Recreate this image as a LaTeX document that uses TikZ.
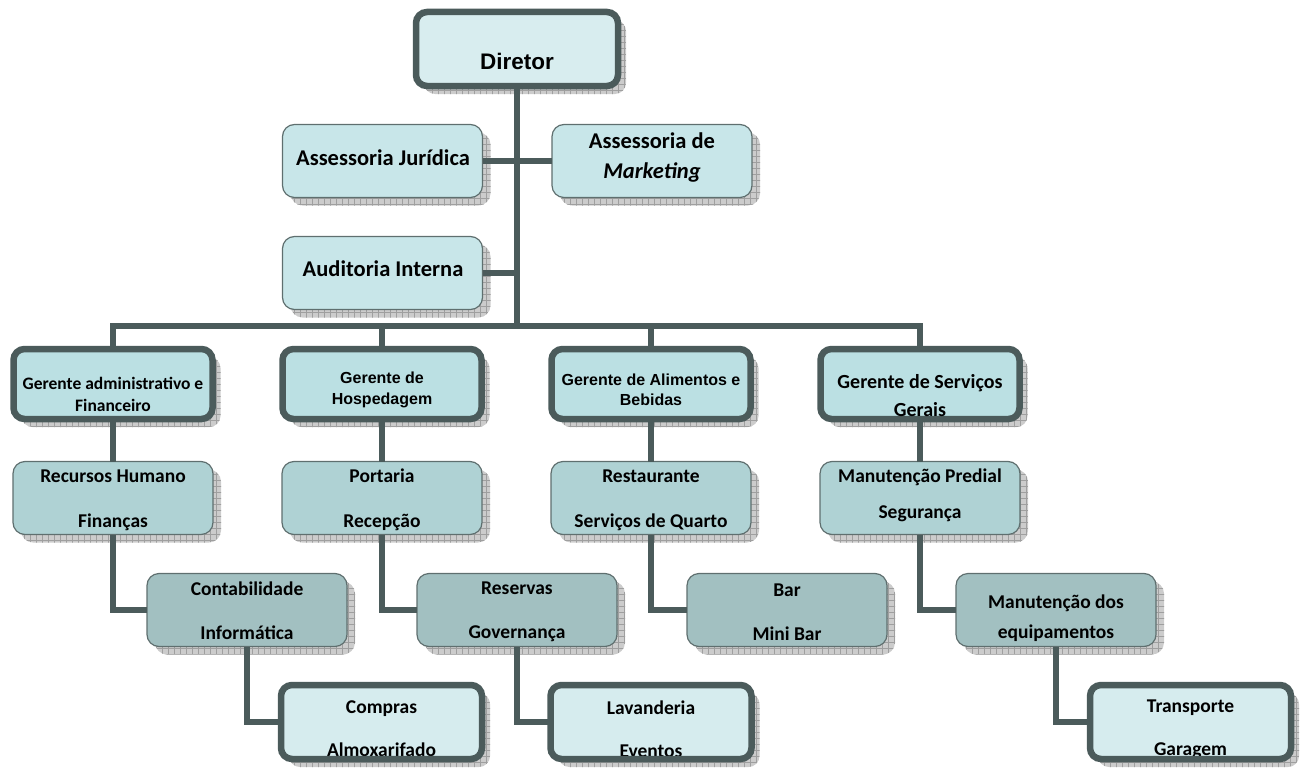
\documentclass[tikz,border=0pt]{standalone}
\usepackage{fontspec}
\setmainfont{Carlito}
\newfontfamily\arialfont{Liberation Sans}
\usetikzlibrary{shadows,patterns.meta}

\definecolor{framegray}{HTML}{4B5B5B}
\definecolor{edgegray}{HTML}{5F6F6F}
\definecolor{topfill}{HTML}{D8EDEF}
\definecolor{stafffill}{HTML}{C8E6E9}
\definecolor{mgrfill}{HTML}{BBE0E3}
\definecolor{secfill}{HTML}{AFD2D4}
\definecolor{subfill}{HTML}{A2C0C1}
\definecolor{lowfill}{HTML}{D6ECEE}

\tikzset{
  boxshadow/.style={general shadow={shadow xshift=8pt, shadow yshift=-8pt, fill=gray!40,
      postaction={pattern={Hatch[distance=6pt, angle=0, line width=0.3pt]}, pattern color=gray!75}}},
  thickbox/.style={boxshadow, draw=framegray, line width=6.5pt, rounded corners=11pt, fill=#1, outer sep=0pt},
  thinbox/.style={boxshadow, draw=edgegray, line width=1.2pt, rounded corners=12pt, fill=#1,
      minimum width=200pt, minimum height=73pt, outer sep=0pt},
  lowframe/.style={draw=framegray, line width=6.5pt, rounded corners=11pt},
  link/.style={draw=framegray, line width=5.5pt},
  caltext/.style 2 args={align=center, text=black, font=\bfseries\fontsize{#1}{#2}\selectfont},
  arialtext/.style 2 args={align=center, text=black, font=\arialfont\bfseries\fontsize{#1}{#2}\selectfont}
}

\begin{document}
\begin{tikzpicture}[x=1pt, y=-1pt]
    \useasboundingbox (0,0) rectangle (1306,768);

    % Director and staff
    \node[thickbox=topfill, minimum width=202pt, minimum height=74pt] (dir) at (517,49) {};
    \node[arialtext={22.5}{27}] (tdir) at (517,61) {Diretor};

    \node[thinbox=stafffill] (aj) at (382.5,161) {};
    \node[caltext={22.5}{27}] (taj) at (383,158) {Assessoria Jurídica};
    \node[thinbox=stafffill] (am) at (652,161) {};
    \node[caltext={22.5}{30}] (tam) at (652,158) {Assessoria de\\{\itshape Marketing}};
    \node[thinbox=stafffill] (ai) at (382.5,273) {};
    \node[caltext={22.5}{27}] (tai) at (383,269) {Auditoria Interna};

    % Managers
    \foreach \n/\x in {ga/113, gh/382, gab/651, gs/920}
        \node[thickbox=mgrfill, minimum width=199pt, minimum height=70pt] (\n) at (\x,384) {};
    \node[caltext={17.5}{22}] (tga) at (113,394) {Gerente administrativo e\\Financeiro};
    \node[arialtext={16}{21}] (tgh) at (382,390) {Gerente de\\Hospedagem};
    \node[arialtext={16}{20}] (tgab) at (651,390) {Gerente de Alimentos e\\Bebidas};
    \node[caltext={20}{28}] (tgs) at (920,396) {Gerente de Serviços\\Gerais};

    % Sections
    \foreach \n/\x/\y/\sk/\txt in {rh/113/500/45/{Recursos Humano\\Finanças},
            pr/382/500/45/{Portaria\\Recepção},
            rs/651/500/45/{Restaurante\\Serviços de Quarto},
            mp/920/495/36/{Manutenção Predial\\Segurança}} {
        \node[thinbox=secfill] (\n) at (\x,498) {};
        \node[caltext={19.5}{\sk}] (t\n) at (\x,\y) {\txt};
    }

    % Sub-sections
    \foreach \n/\x/\y/\sk/\txt in {cont/247/611/44/{Contabilidade\\Informática},
            res/517/612/44/{Reservas\\Governança},
            mb/787/612/44/{Bar\\Mini Bar},
            me/1056/618/30/{Manutenção dos\\equipamentos}} {
        \node[thinbox=subfill] (\n) at (\x,610) {};
        \node[caltext={19.5}{\sk}] (t\n) at (\x,\y) {\txt};
    }

    % Lowest level, frame drawn over the text
    \foreach \n/\x/\txt in {comp/381.5/{Compras\\Almoxarifado},
            lav/651/{Lavanderia\\Eventos},
            tr/1190.5/{Transporte\\Garagem}} {
        \node[thickbox=lowfill, draw=none, minimum width=201pt, minimum height=74pt] (\n) at (\x,722) {};
        \node[caltext={19.5}{43}] (t\n) at (\x,729) {\txt};
        \draw[lowframe] (\n.south west) rectangle (\n.north east);
    }

    % Connectors
    \coordinate (hub) at (517,326);
    \draw[link] (dir.south) -- (hub);
    \draw[link] (aj.east) -- (am.west);
    \draw[link] (ai.east) -- (ai.east -| dir.south);
    \draw[link] (ga.north) |- (hub) -| (gs.north);
    \draw[link] (gh.north) -- (gh.north |- hub);
    \draw[link] (gab.north) -- (gab.north |- hub);
    \foreach \a/\b in {ga/rh, gh/pr, gab/rs, gs/mp}
        \draw[link] (\a.south) -- (\b.north);
    \foreach \a/\b in {rh/cont, pr/res, rs/mb, mp/me, cont/comp, res/lav, me/tr}
        \draw[link] (\a.south) |- (\b.west);
\end{tikzpicture}
\end{document}
